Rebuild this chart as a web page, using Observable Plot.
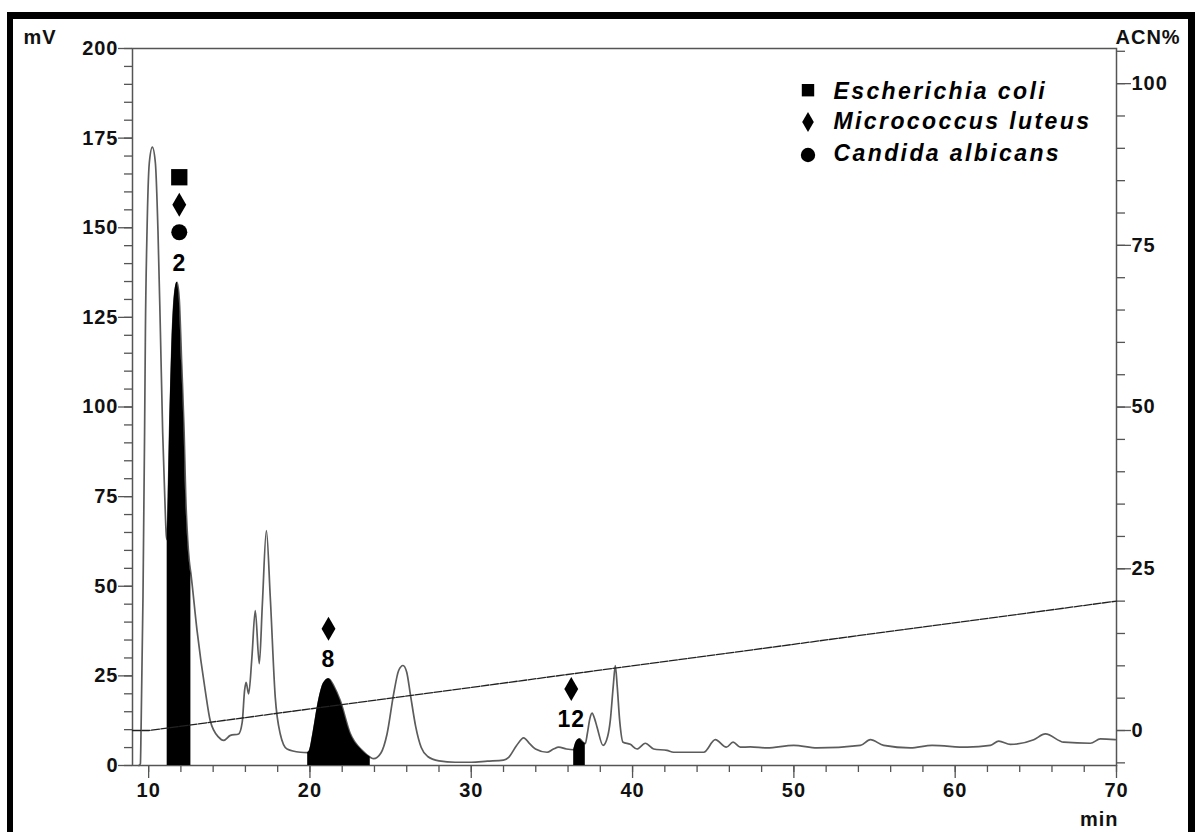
<!DOCTYPE html>
<html><head><meta charset="utf-8">
<script src="https://cdn.jsdelivr.net/npm/d3@7"></script>
<script src="https://cdn.jsdelivr.net/npm/@observablehq/plot@0.6"></script>
<style>
html,body{margin:0;padding:0;background:#fff;overflow:hidden;width:1195px;height:832px;}
#border{position:absolute;left:7px;top:12px;width:1175px;height:900px;border:7px solid #000;border-left-width:6px;pointer-events:none;}
#chart{position:absolute;left:0;top:0;}
#chart svg{letter-spacing:1px;}
#chart svg g[font-style="italic"]{letter-spacing:2.4px;}
</style></head><body>
<div id="chart"></div><div id="border"></div>
<script>
// ---- data ----
const traceTime = [9.4,9.49,9.53,9.65,9.75,9.8,9.9,10.04,10.23,10.42,10.58,10.73,10.87,11.0,11.1,
  11.15,11.22,11.3,11.45,11.6,11.76,11.9,12.05,12.2,12.3,12.42,12.52,12.62,
  13.0,13.51,13.82,14.34,14.65,15.07,15.58,15.8,15.95,16.04,16.2,16.4,16.61,16.86,17.05,17.3,17.54,17.85,18.16,18.58,19.4,
  19.86,19.98,20.19,20.54,20.85,21.16,21.5,21.88,22.5,23.23,23.74,
  23.95,24.4,24.78,25.19,25.5,25.77,26.0,26.22,26.55,26.9,27.3,28.0,29.0,30.0,31.0,32.0,32.32,32.8,33.25,33.6,33.98,34.7,35.1,35.42,35.9,
  36.35,36.5,36.72,36.9,37.07,
  37.2,37.35,37.49,37.65,37.8,38.17,38.45,38.62,38.8,38.93,39.05,39.2,39.41,39.86,40.28,40.79,41.31,42.14,42.55,44.41,45.13,45.81,46.23,46.68,47.3,
  48.34,49.99,51.44,54.12,54.74,55.57,57.22,58.57,60.74,62.18,62.7,63.42,64.87,65.59,66.73,68.38,69.0,69.93];
const traceMV = [0,0.5,9.8,47,93,121,149,168,172.5,168,149,121,93,75,64,
  63,75,93,118,131,134.8,130,112,93,75,63,57,53.5,
  37.7,20.9,12.5,7.9,7.0,8.4,8.8,12,21,23.2,20,30,43.2,28.4,45,65.5,47,19,8.8,4.6,3.7,
  3.6,4.2,8.9,18.1,23,24.2,22,18.1,8.9,4.2,2.3,
  1.9,3.5,8.8,20,26.5,27.9,26,20,11,5,2.5,1.3,0.9,0.9,1.2,1.5,2.3,5.5,7.7,6.2,4.6,3.7,4.6,5.1,4.6,
  4.4,6.5,7.4,6.6,6.1,
  9,13,14.6,13,10.7,5.6,8,12.6,22,27.9,22,12.6,6.5,5.9,4.6,6.2,4.6,4.2,3.7,3.7,7.2,5.1,6.5,5.1,5.2,
  4.9,5.6,4.9,5.6,7.2,5.6,4.9,5.6,5.1,5.6,6.8,5.9,7.2,8.8,6.5,6.2,7.4,7.2];

// shaded (collected) fractions, retention windows in min
const fillStart = [11.15, 19.86, 36.35];
const fillEnd   = [12.62, 23.74, 37.07];

// ACN gradient
const acnTime  = [9, 10, 70];
const acnValue = [0, 0, 20];

// peak annotations
const peakIds        = ["2", "8", "12"];
const peakLabelTimes = [11.9, 21.15, 36.2];
const peakApex       = [134.8, 24.2, 7.4];
const peakSpecies    = [["Candida albicans", "Micrococcus luteus", "Escherichia coli"], ["Micrococcus luteus"], ["Micrococcus luteus"]];

const speciesNames = ["Escherichia coli", "Micrococcus luteus", "Candida albicans"];

// ticks
const xTicks = [10, 20, 30, 40, 50, 60, 70];
const yTicks = [0, 25, 50, 75, 100, 125, 150, 175, 200];
const acnTicks = [0, 25, 50, 75, 100];

// ---- build ----
const trace = traceTime.map((t, i) => ({t, mV: traceMV[i]}));
const acn = acnTime.map((t, i) => ({t, acn: acnValue[i]}));
const acnToMV = d3.scaleLinear().domain([0, 100]).range([9.76, 190.2]);

const symbolOf = {"Escherichia coli": "square", "Micrococcus luteus": "diamond", "Candida albicans": "circle"};
const rPeak = {square: 9.2, diamond: 7.3, circle: 8};
const rLegend = {square: 7.0, diamond: 6.1, circle: 7.2};

const AXIS = "#555", TXT = "#111";
const marks = [];

// axes (minor + major ticks)
marks.push(Plot.axisY(d3.range(0, 201, 5), {anchor: "left", tickSize: 8, fill: "none", stroke: AXIS, strokeWidth: 1.3, label: null}));
marks.push(Plot.axisY(yTicks, {anchor: "left", tickSize: 14, tickPadding: 0, stroke: AXIS, strokeWidth: 1.3, fill: TXT, fontWeight: "bold", fontSize: 20, label: null}));
marks.push(Plot.axisX(d3.range(10, 71, 2), {anchor: "bottom", tickSize: 7, fill: "none", stroke: AXIS, strokeWidth: 1.3, label: null}));
marks.push(Plot.axisX(xTicks, {anchor: "bottom", tickSize: 13, tickPadding: 4, stroke: AXIS, strokeWidth: 1.3, fill: TXT, fontWeight: "bold", fontSize: 20, label: null}));
marks.push(Plot.axisY(d3.range(-5, 106, 5).map(acnToMV), {anchor: "right", tickSize: 8, fill: "none", stroke: AXIS, strokeWidth: 1.3, label: null}));
marks.push(Plot.axisY(acnTicks.map(acnToMV), {anchor: "right", tickSize: 14, tickPadding: 1, stroke: AXIS, strokeWidth: 1.3, fill: TXT, fontWeight: "bold", fontSize: 20, label: null,
  tickFormat: d => String(Math.round(acnToMV.invert(d)))}));
marks.push(Plot.frame({stroke: AXIS, strokeWidth: 1.5}));

// chromatogram
marks.push(Plot.lineY(trace, {x: "t", y: "mV", stroke: "#5c5c5c", strokeWidth: 1.7, curve: "monotone-x"}));
fillStart.forEach((a, i) => {
  const b = fillEnd[i];
  marks.push(Plot.areaY(trace.filter(d => d.t >= a && d.t <= b), {x: "t", y: "mV", fill: "#000", curve: "monotone-x"}));
});
// ACN gradient line
marks.push(Plot.line(acn, {x: "t", y: d => acnToMV(d.acn), stroke: "#222", strokeWidth: 1.3, strokeDasharray: "8,1.5"}));

// peak labels + species markers
const peaks = peakIds.map((id, i) => ({id, t: peakLabelTimes[i], mV: peakApex[i]}));
marks.push(Plot.text(peaks, {x: "t", y: "mV", text: "id", dy: -19, lineAnchor: "middle", fontWeight: "bold", fontSize: 23, fill: "#000"}));
peaks.forEach((p, i) => {
  peakSpecies[i].forEach((sp, level) => {
    const sym = symbolOf[sp];
    marks.push(Plot.dot([p], {x: "t", y: "mV", dy: -50 - 27.5 * level, symbol: sym, r: rPeak[sym], fill: "#000", stroke: "none"}));
  });
});

// legend
const legDy = [50.3, 80.5, 112];
const legSymDy = [41.7, 73.5, 106.5];
speciesNames.forEach((name, i) => {
  const sym = symbolOf[name];
  marks.push(Plot.dot([name], {frameAnchor: "top-right", dx: -308.5, dy: legSymDy[i], symbol: sym, r: rLegend[sym], fill: "#000", stroke: "none"}));
  marks.push(Plot.text([name], {frameAnchor: "top-right", text: d => d, dx: -283, dy: legDy[i], textAnchor: "start", lineAnchor: "bottom", fontStyle: "italic", fontWeight: "bold", fontSize: 23, fill: "#000"}));
});

// axis unit labels
marks.push(Plot.text(["mV"], {frameAnchor: "top-left", text: d => d, dx: -109, dy: -5, textAnchor: "start", lineAnchor: "bottom", fontWeight: "bold", fontSize: 20, fill: TXT}));
marks.push(Plot.text(["ACN%"], {frameAnchor: "top-right", text: d => d, dx: -1, dy: -5, textAnchor: "start", lineAnchor: "bottom", fontWeight: "bold", fontSize: 20, fill: TXT}));
marks.push(Plot.text(["min"], {frameAnchor: "bottom-right", text: d => d, dx: 2, dy: 60, textAnchor: "end", lineAnchor: "bottom", fontWeight: "bold", fontSize: 20, fill: TXT}));

const chart = Plot.plot({
  width: 1195, height: 832,
  marginLeft: 132, marginRight: 79, marginTop: 48, marginBottom: 67,
  x: {domain: [9, 70]},
  y: {domain: [0, 200]},
  style: {fontFamily: "'Liberation Sans', Arial, sans-serif", fontSize: "20px", color: TXT, background: "transparent", overflow: "visible"},
  marks
});
document.getElementById("chart").appendChild(chart);
</script></body></html>
